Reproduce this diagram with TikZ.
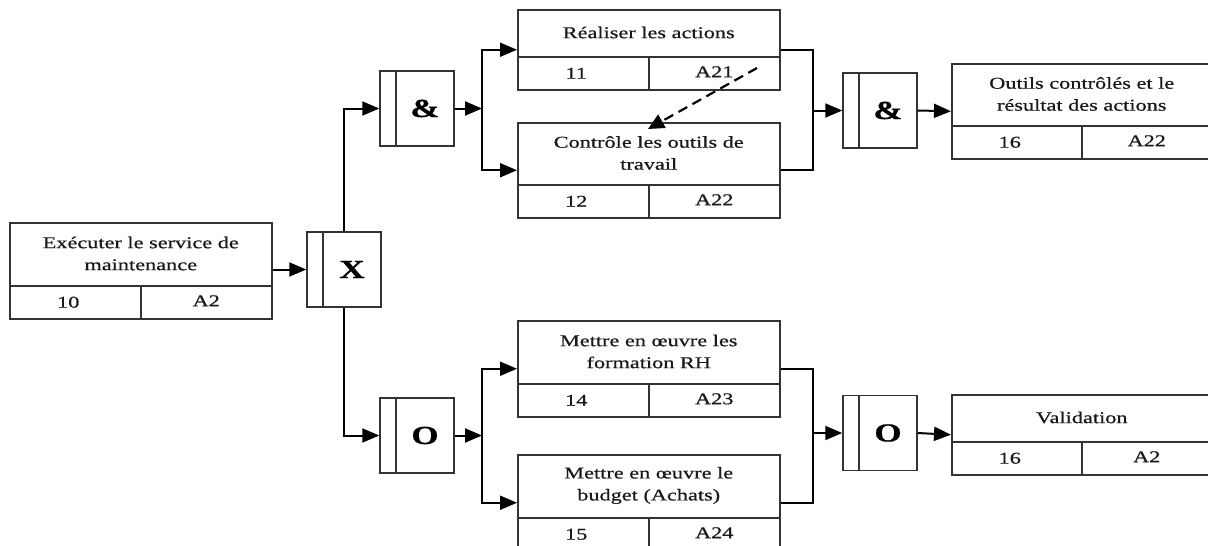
\documentclass[tikz,border=0pt]{standalone}
\usepackage{fontspec}
\setmainfont{Liberation Serif}[FakeStretch=1.35,FakeBold=0.6]
\usetikzlibrary{arrows.meta,calc}
\tikzset{
  pbox/.style={draw=black!80, line width=1.5pt, inner sep=0pt},
  pcell/.style={draw=black!80, line width=1.5pt, inner sep=0pt, minimum height=33pt,
    font=\fontsize{16.5}{22}\selectfont, text=black!90},
  ptitle/.style={inner sep=0pt, align=center, font=\fontsize{16.5}{22}\selectfont, text=black!90},
  junc/.style={draw=black!80, line width=1.5pt, inner sep=0pt, minimum width=74pt, minimum height=75pt,
    font=\fontsize{26}{28}\selectfont\bfseries,
    path picture={\draw[black!80, line width=1.5pt]
      ([xshift=16pt]path picture bounding box.north west) -- ([xshift=16pt]path picture bounding box.south west);}},
  conn/.style={line width=2pt, black},
  arr/.style={conn, -{Triangle[length=17pt,width=14pt]}},
  dasharr/.style={line width=2.2pt, black, dash pattern=on 10pt off 6pt, -{Triangle[length=16pt,width=15pt]}},
}
\newcommand\procbox[8]{%
  \node[pbox, minimum width=#4pt, minimum height=#5pt, anchor=north west] (#1) at (#2,#3) {};
  \node[pcell, minimum width=#4pt/2, anchor=south west] (#1n) at (#1.south west) {\raisebox{-3pt}{#7}\hspace*{14pt}};
  \node[pcell, minimum width=#4pt/2, anchor=south east] (#1c) at (#1.south east) {\raisebox{3pt}{#8}};
  \node[ptitle] (#1t) at ($(#1.north)!0.5!(#1n.north -| #1.north)$) {#6};
}
\begin{document}
\begin{tikzpicture}[x=1pt,y=-1pt]
\useasboundingbox[fill=white] (0,0) rectangle (1208,546);

% process boxes
\procbox{b10}{9}{222}{262}{96}{Exécuter le service de\\maintenance}{10}{A2}
\procbox{b11}{517}{9}{262}{80}{Réaliser les actions}{11}{A21}
\procbox{b12}{517}{122}{262}{95}{Contrôle les outils de\\travail}{12}{A22}
\procbox{b14}{517}{320}{262}{96}{Mettre en œuvre les\\formation RH}{14}{A23}
\procbox{b15}{517}{454}{262}{96}{Mettre en œuvre le\\budget (Achats)}{15}{A24}
\procbox{bo1}{951}{63}{260}{95}{Outils contrôlés et le\\résultat des actions}{16}{A22}
\procbox{bo2}{951}{394}{260}{80}{Validation}{16}{A2}

% junctions
\node[junc] (X) at (344,269.5) {\hspace*{16pt}X};
\node[junc] (andA) at (417,108.5) {\hspace*{16pt}\&};
\node[junc] (O1) at (417,435.5) {\hspace*{16pt}O};
\node[junc] (andB) at (880,110.5) {\hspace*{16pt}\&};
\node[junc] (O2) at (880,433) {\hspace*{16pt}O};

% branch / merge points
\coordinate (brA) at (482,108.5);
\coordinate (brB) at (482,435.5);
\coordinate (mgA) at (813,110.5);
\coordinate (mgB) at (813,433);
\coordinate (dS) at (757,68);
\coordinate (dE) at (648,129);

% connectors
\draw[arr] (X.west -| b10.east) -- (X.west);
\draw[arr] (X.north) |- (andA.west);
\draw[arr] (X.south) |- (O1.west);

\draw[arr] (andA.east) -- (brA);
\draw[arr] (brA) |- (b11.west);
\draw[arr] (brA) |- (b12.west);
\draw[arr] (O1.east) -- (brB);
\draw[arr] (brB) |- (b14.west);
\draw[arr] (brB) |- (b15.west);

\draw[conn] (b11.east) -| (mgA) |- (b12.east);
\draw[arr] (mgA) -- (andB.west);
\draw[arr] (andB.east) -- (bo1.west);
\draw[conn] (b14.east) -| (mgB) |- (b15.east);
\draw[arr] (mgB) -- (O2.west);
\draw[arr] (O2.east) -- (bo2.west);

\draw[dasharr] (dS) -- (dE);
\end{tikzpicture}
\end{document}
